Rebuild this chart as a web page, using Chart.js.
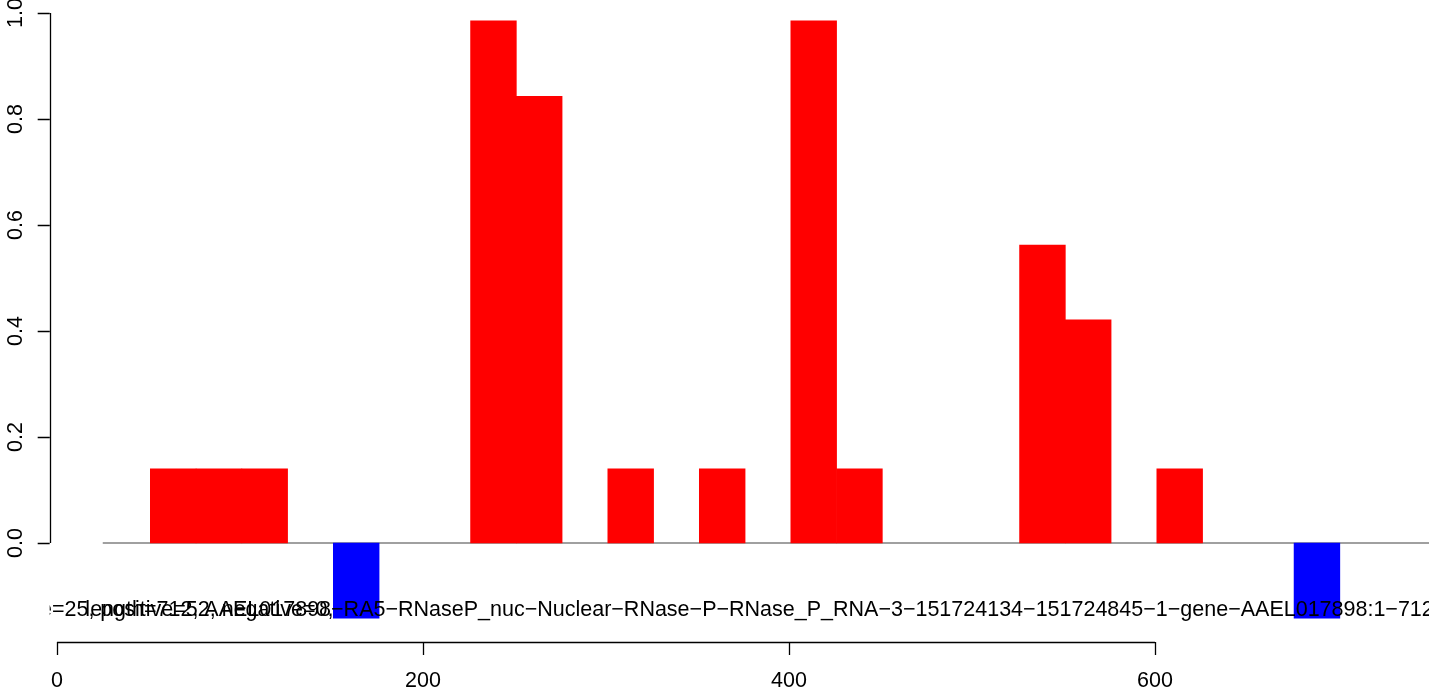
<!DOCTYPE html>
<html>
<head>
<meta charset="utf-8">
<script src="https://cdn.jsdelivr.net/npm/chart.js@4/dist/chart.umd.min.js"></script>
<style>
  html, body { margin: 0; padding: 0; background: #fff; }
  #wrap { width: 1429px; height: 690px; }
</style>
</head>
<body>
<div id="wrap"><canvas id="myChart" width="1429" height="690"></canvas></div>
<script>
// window start positions (window = 25, 1-based) and the score of each window
var binStarts = [51, 76, 101, 151, 226, 251, 301, 351, 401, 426, 526, 551, 601, 676];
var binValues = [0.14, 0.14, 0.14, -0.142, 0.985, 0.843, 0.14, 0.14, 0.985, 0.14, 0.562, 0.421, 0.14, -0.142];
var binWidth = 25;

var xTicks = [0, 200, 400, 600];
var yTicks = [0, 0.2, 0.4, 0.6, 0.8, 1.0];
var yTickLabels = ["0.0", "0.2", "0.4", "0.6", "0.8", "1.0"];

var infoText = "window_size=25, positive=52, negative=0,";
var titleText = "length=712, AAEL017898\u2212RA5\u2212RNaseP_nuc\u2212Nuclear\u2212RNase\u2212P\u2212RNase_P_RNA\u22123\u2212151724134\u2212151724845\u22121\u2212gene\u2212AAEL017898:1\u2212712";

var font = '21.5px "Liberation Sans", Arial, sans-serif';

var barData = [];
var barColors = [];
for (var i = 0; i < binStarts.length; i++) {
    barData.push({ x: binStarts[i] + binWidth / 2, y: binValues[i] });
    barColors.push(binValues[i] < 0 ? "#0000ff" : "#ff0000");
}

// R style axes + the label text, drawn against the chart scales
var rAxes = {
    id: "rAxes",
    afterDatasetsDraw: function (chart) {
        var ctx = chart.ctx;
        var xs = chart.scales.x;
        var ys = chart.scales.y;
        var axisX = xs.getPixelForValue(-4);
        var axisY = ys.getPixelForValue(-0.187);

        ctx.save();
        ctx.strokeStyle = "#000";
        ctx.fillStyle = "#000";
        ctx.lineWidth = 1.3;
        ctx.font = font;

        // y axis
        var yTop = ys.getPixelForValue(yTicks[yTicks.length - 1]);
        var yBot = ys.getPixelForValue(yTicks[0]);
        ctx.beginPath();
        ctx.moveTo(Math.round(axisX) + 0.5, yTop);
        ctx.lineTo(Math.round(axisX) + 0.5, yBot);
        for (var i = 0; i < yTicks.length; i++) {
            var py = Math.round(ys.getPixelForValue(yTicks[i])) + 0.5;
            ctx.moveTo(axisX, py);
            ctx.lineTo(axisX - 12, py);
        }
        ctx.stroke();
        for (var i = 0; i < yTicks.length; i++) {
            var py = ys.getPixelForValue(yTicks[i]);
            ctx.save();
            ctx.translate(22, py);
            ctx.rotate(-Math.PI / 2);
            ctx.textAlign = "center";
            ctx.textBaseline = "alphabetic";
            ctx.fillText(yTickLabels[i], 0, 0);
            ctx.restore();
        }

        // x axis
        var xl = xs.getPixelForValue(xTicks[0]);
        var xr = xs.getPixelForValue(xTicks[xTicks.length - 1]);
        ctx.beginPath();
        ctx.moveTo(xl, Math.round(axisY) + 0.5);
        ctx.lineTo(xr, Math.round(axisY) + 0.5);
        for (var j = 0; j < xTicks.length; j++) {
            var px = Math.round(xs.getPixelForValue(xTicks[j])) + 0.5;
            ctx.moveTo(px, axisY);
            ctx.lineTo(px, axisY + 13);
        }
        ctx.stroke();
        ctx.textAlign = "center";
        ctx.textBaseline = "alphabetic";
        for (var j = 0; j < xTicks.length; j++) {
            ctx.fillText(String(xTicks[j]), xs.getPixelForValue(xTicks[j]), axisY + 45);
        }

        // overlapping info text, clipped to the plot region
        ctx.beginPath();
        ctx.rect(axisX, 0, chart.width - axisX, chart.height);
        ctx.clip();
        ctx.textAlign = "left";
        var textStart = xs.getPixelForValue(15.5);
        var textY = ys.getPixelForValue(-0.138);
        var lead = ctx.measureText("window_size=25, ").width;
        ctx.fillText(infoText, textStart + 15 - lead, textY);
        ctx.fillText(titleText, textStart, textY);
        ctx.restore();
    }
};

new Chart("myChart", {
    data: {
        datasets: [{
            type: "line",
            data: [{ x: binWidth, y: 0 }, { x: 760, y: 0 }],
            borderColor: "#808080",
            borderWidth: 1.5,
            pointRadius: 0,
            order: 2
        }, {
            type: "bar",
            data: barData,
            backgroundColor: barColors,
            borderWidth: 0,
            barPercentage: 1.0,
            categoryPercentage: 1.0,
            order: 1
        }]
    },
    options: {
        responsive: false,
        animation: false,
        layout: { padding: 0 },
        plugins: {
            legend: { display: false },
            title: { display: false },
            tooltip: { enabled: false }
        },
        scales: {
            x: {
                type: "linear",
                display: false,
                offset: false,
                min: -31.15,
                max: 749.73,
                ticks: { stepSize: 200 },
                grid: { offset: false }
            },
            y: {
                type: "linear",
                display: false,
                min: -0.27736,
                max: 1.02453
            }
        }
    },
    plugins: [rAxes]
});
</script>
</body>
</html>
